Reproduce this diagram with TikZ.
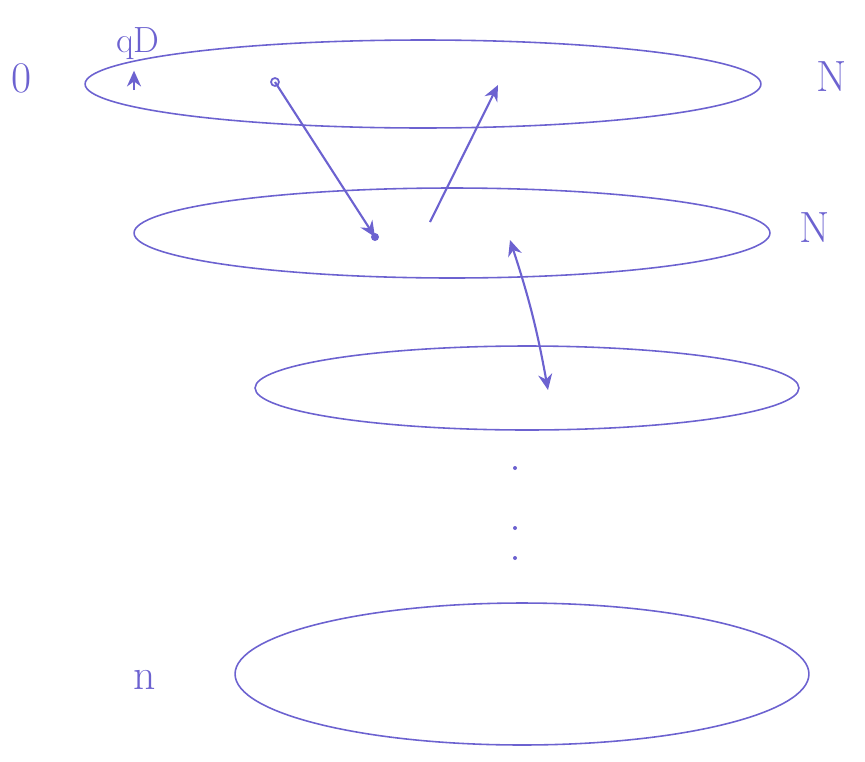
\documentclass[tikz,border=0pt]{standalone}
\usepackage{xcolor}
\usepackage{tikz}
\usetikzlibrary{arrows.meta, positioning, shapes.geometric}

\definecolor{pen}{RGB}{108,98,208}
\tikzset{
  layer/.style={ellipse, draw=pen, line width=0.9pt, inner sep=0pt},
  lab/.style={text=pen, font=\Huge},
  jump/.style={draw=pen, line width=1.2pt, -{Stealth[length=9pt,width=8pt]}},
}

\begin{document}
\begin{tikzpicture}[x=0.02cm,y=-0.02cm]
\useasboundingbox (0,0) rectangle (865,761);
% layers
\node[layer, minimum width=13.52cm, minimum height=1.76cm] (L1) at (423,84) {};
\node[layer, minimum width=12.72cm, minimum height=1.80cm] (L2) at (452,233) {};
\node[layer, minimum width=10.88cm, minimum height=1.68cm] (L3) at (527,388) {};
\node[layer, minimum width=11.48cm, minimum height=2.84cm] (L4) at (522,674) {};
% labels
\node[lab] (zero) at (22,78) {0};
\node[lab] (N1) at (832,77) {N};
\node[lab] (N2) at (815,228) {N};
\node[lab] (n) at (145,680) {n};
\node[lab, font=\huge] (q) at (138,44) {qD};
% points and jumps
\coordinate (a) at (275,82);
\coordinate (b) at (375,237);
\coordinate (c) at (430,222);
\coordinate (d) at (498,85);
\coordinate (e) at (510,240);
\coordinate (f) at (548,390);
\coordinate (m) at (134,90);
\draw[pen, line width=1pt] (a) circle (4);
\fill[pen] (b) circle (4);
\draw[jump] (a) -- (b);
\draw[jump] (c) -- (d);
\draw[jump, {Stealth[length=9pt,width=8pt]}-{Stealth[length=9pt,width=8pt]}] (e) to[bend left=4] (f);
\draw[jump] (m) -- ([yshift=11pt]m);
% dots
\foreach \y in {468,528,558}
  \fill[pen] (515,\y) circle (2);
\end{tikzpicture}
\end{document}
